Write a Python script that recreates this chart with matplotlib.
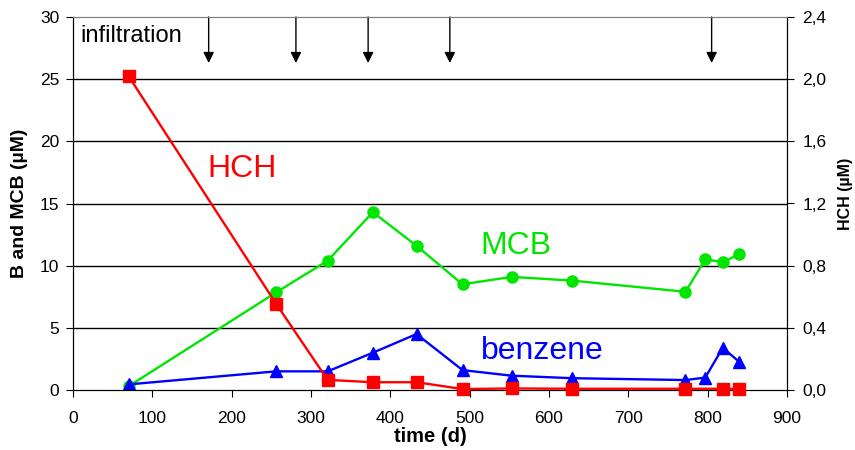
import matplotlib
matplotlib.use("Agg")
import matplotlib.pyplot as plt
from matplotlib.ticker import FuncFormatter

plt.rcParams['font.family'] = ['Liberation Sans', 'DejaVu Sans']

mcb_t = [70, 256, 321, 378, 433, 491, 553, 629, 772, 797, 819, 840]
mcb_v = [0.3, 7.85, 10.4, 14.3, 11.6, 8.5, 9.1, 8.8, 7.9, 10.5, 10.3, 10.9]
ben_t = [70, 256, 321, 378, 433, 491, 553, 629, 772, 797, 819, 840]
ben_v = [0.45, 1.5, 1.5, 3.0, 4.5, 1.6, 1.15, 0.95, 0.8, 1.0, 3.4, 2.25]
hch_t = [70, 256, 321, 378, 433, 491, 553, 629, 772, 819, 840]
hch_v = [2.02, 0.555, 0.065, 0.05, 0.05, 0.006, 0.01, 0.008, 0.008, 0.008, 0.008]
infil_t = [171, 281, 372, 475, 805]

fig = plt.figure(figsize=(8.55, 4.5), dpi=100)
ax = fig.add_axes([73/855, 1-390/450, (787-73)/855, (390-17)/450])
ax2 = ax.twinx()

ax.set_xlim(0, 900)
ax.set_ylim(0, 30)
ax2.set_ylim(0, 2.4)
ax.set_xticks(range(0, 901, 100))
ax.set_yticks(range(0, 31, 5))
ax2.set_yticks([0, 0.4, 0.8, 1.2, 1.6, 2.0, 2.4])
ax2.yaxis.set_major_formatter(FuncFormatter(lambda v, p: f"{v:.1f}".replace('.', ',')))

for y in range(5, 30, 5):
    ax.axhline(y, color='black', lw=1, zorder=0)

ax.plot(mcb_t, mcb_v, color='#00e600', lw=1.7, marker='o', ms=8, zorder=3)
ax.plot(ben_t, ben_v, color='#0000ff', lw=1.7, marker='^', ms=8, zorder=3)
ax2.plot(hch_t, hch_v, color='#ff0000', lw=1.7, marker='s', ms=8, zorder=3, clip_on=False)

for t in infil_t:
    ax.annotate('', xy=(t, 26.3), xytext=(t, 30),
                arrowprops=dict(arrowstyle='-|>', color='black', lw=1,
                                mutation_scale=16, shrinkA=0, shrinkB=0))

ax.text(9, 28.45, 'infiltration', fontsize=17, va='center', ha='left')
ax.text(170, 17.8, 'HCH', fontsize=23, color='#ff0000', va='center', ha='left')
ax.text(514, 11.6, 'MCB', fontsize=23, color='#00e600', va='center', ha='left')
ax.text(514, 3.1, 'benzene', fontsize=23, color='#0000ff', va='center', ha='left')

ax.tick_params(axis='x', labelsize=12.5, direction='out', length=5, pad=10)
ax.tick_params(axis='y', labelsize=12.5, direction='out', length=5, pad=5)
ax2.tick_params(axis='y', labelsize=12.5, direction='out', length=5, pad=6)
for a in (ax, ax2):
    a.spines['top'].set_color('#808080')

ax.set_xlabel('time (d)', fontsize=14.5, fontweight='bold')
ax.xaxis.set_label_coords(0.5, -(437-390)/373, transform=ax.transAxes)
ax.xaxis.label.set_va('center')
ax.set_ylabel('B and MCB (µM)', fontsize=14, fontweight='bold')
ax.yaxis.set_label_coords(-(73-19)/714, 0.5)
ax.yaxis.label.set_va('center')
ax2.set_ylabel('HCH (µM)', fontsize=11.5, fontweight='bold')
ax2.yaxis.set_label_coords(1+(845-787)/714, (390-194)/373)
ax2.yaxis.label.set_va('center')

fig.savefig('out.png', dpi=100)
